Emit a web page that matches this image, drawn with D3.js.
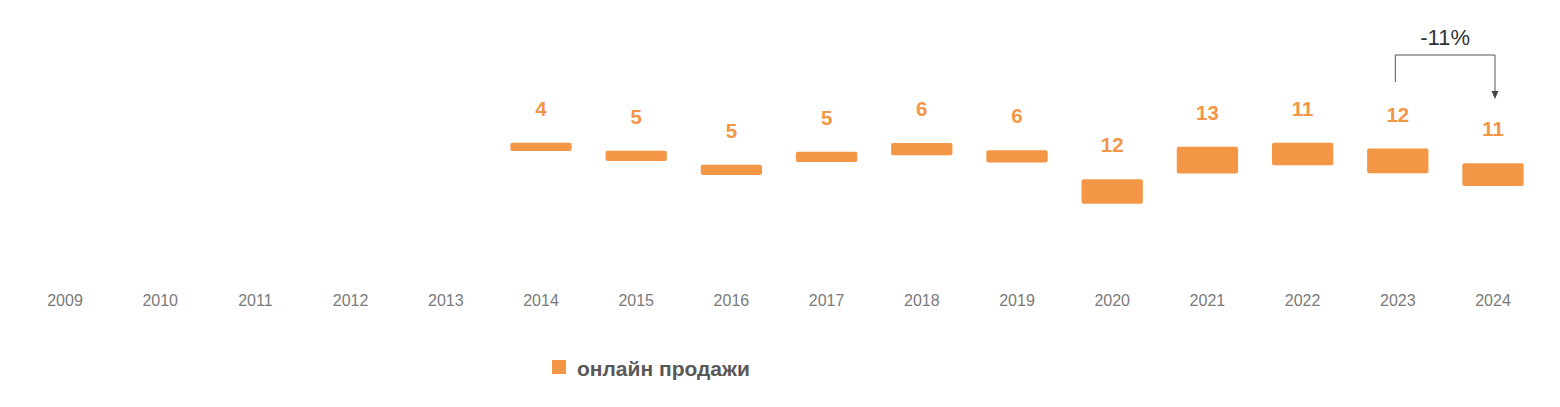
<!DOCTYPE html>
<html>
<head>
<meta charset="utf-8">
<script src="https://cdn.jsdelivr.net/npm/d3@7"></script>
<style>
  html, body { margin: 0; padding: 0; background: #ffffff; }
  svg { display: block; font-family: "Liberation Sans", Arial, sans-serif; }
</style>
</head>
<body>
<svg id="chart" width="1560" height="407"></svg>
<script>
// ---- data ----
const years = ["2009","2010","2011","2012","2013","2014","2015","2016","2017","2018","2019","2020","2021","2022","2023","2024"];
// visible series: online sales (label values)
const onlineSales = [null,null,null,null,null,4,5,5,5,6,6,12,13,11,12,11];
// invisible stacked base underneath the visible bars
const hiddenBase = [null,null,null,null,null,62.9,58.0,51.2,57.6,60.8,57.3,37.2,52.0,56.0,52.1,45.9];
const legendLabel = "онлайн продажи";
const changeLabel = "-11%";
const changeFrom = "2023", changeTo = "2024";

// ---- layout ----
const W = 1560, H = 407;
const svg = d3.select("#chart");
const orange = "#F39646";

const x = d3.scaleBand().domain(years).range([17.4, 1540.6]).paddingInner(0.356).paddingOuter(0.178);
const y = d3.scaleLinear().domain([0, 130]).range([280, 280 - 130 * 2.05]);

const data = years.map((yr, i) => ({ year: yr, base: hiddenBase[i], value: onlineSales[i] }))
  .filter(d => d.value != null);

// bars
svg.append("g").selectAll("rect").data(data).join("rect")
  .attr("x", d => x(d.year))
  .attr("width", x.bandwidth())
  .attr("y", d => y(d.base + d.value))
  .attr("height", d => y(d.base) - y(d.base + d.value))
  .attr("rx", 2).attr("ry", 2)
  .attr("fill", orange);

// value labels
svg.append("g").selectAll("text").data(data).join("text")
  .attr("x", d => x(d.year) + x.bandwidth() / 2)
  .attr("y", d => y(d.base + d.value) - 27)
  .attr("text-anchor", "middle")
  .attr("font-size", 20.5)
  .attr("font-weight", "bold")
  .attr("fill", orange)
  .text(d => d.value);

// x axis (labels only)
const xAxis = d3.axisBottom(x).tickSize(0).tickPadding(0);
const gx = svg.append("g").attr("transform", "translate(0,305.5)").call(xAxis);
gx.select(".domain").remove();
gx.selectAll("text")
  .attr("font-size", 16)
  .attr("font-family", "'Liberation Sans', Arial, sans-serif")
  .attr("fill", "#7a7a7a")
  .attr("dy", 0)
  .attr("y", 0);

// change annotation bracket
const cx1 = x(changeFrom) + x.bandwidth() / 2 - 2.5;
const cx2 = x(changeTo) + x.bandwidth() / 2 + 2;
const bracketTop = 55, leftBottom = 82, arrowTip = 99;
svg.append("path")
  .attr("d", `M${cx1},${leftBottom} V${bracketTop} H${cx2} V${arrowTip - 7}`)
  .attr("fill", "none")
  .attr("stroke", "#555555")
  .attr("stroke-width", 1);
svg.append("path")
  .attr("d", `M${cx2 - 3.5},${arrowTip - 8} L${cx2 + 3.5},${arrowTip - 8} L${cx2},${arrowTip} Z`)
  .attr("fill", "#444444");
svg.append("text")
  .attr("x", (cx1 + cx2) / 2)
  .attr("y", 44.5)
  .attr("text-anchor", "middle")
  .attr("font-size", 22)
  .attr("fill", "#333333")
  .text(changeLabel);

// legend
const lg = svg.append("g").attr("transform", "translate(552,360)");
lg.append("rect").attr("width", 14).attr("height", 14).attr("fill", orange);
lg.append("text")
  .attr("x", 25)
  .attr("y", 15.5)
  .attr("font-size", 21)
  .attr("font-weight", "bold")
  .attr("fill", "#595959")
  .text(legendLabel);
</script>
</body>
</html>
